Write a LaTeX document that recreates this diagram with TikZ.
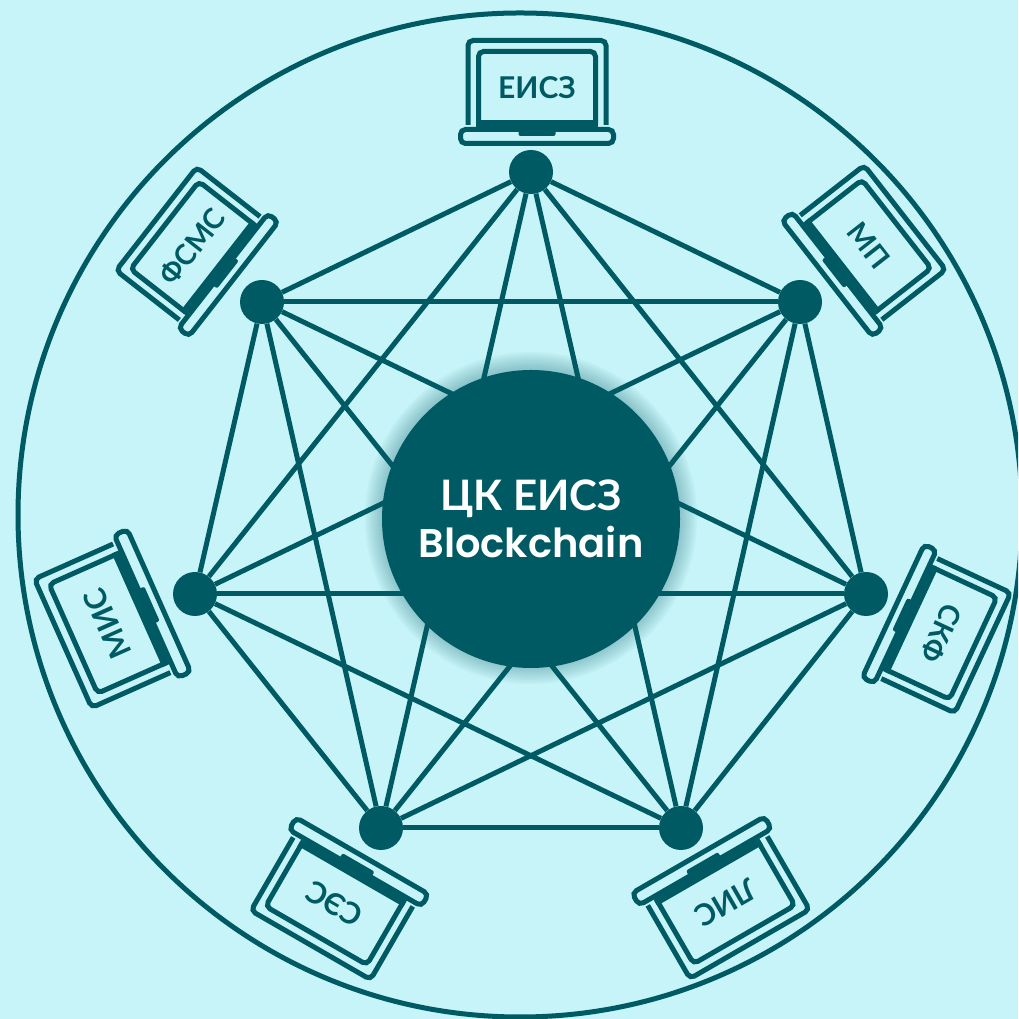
\documentclass[tikz,border=0pt]{standalone}
\usepackage{fontspec}
\setmainfont{Lato}
\newfontfamily\latinfont{Poppins}[BoldFont={Poppins SemiBold}]
\usepackage{tikz}
\definecolor{bgcol}{HTML}{C6F4F8}
\definecolor{tealcol}{HTML}{005A64}
\tikzset{
    linkline/.style={draw=tealcol, line width=5pt},
    hubnode/.style={circle, fill=tealcol, inner sep=0pt, minimum size=44pt},
    ckhub/.style={circle, fill=tealcol, inner sep=0pt, minimum size=298pt, text=white, align=center},
    laptopline/.style={draw=tealcol, line width=5pt, rounded corners=5pt},
    laptoptext/.style={transform shape, text=tealcol, inner sep=0pt, font=\bfseries\fontsize{30}{30}\selectfont},
    pics/laptop/.style={code={
        \draw[laptopline] (-69,-33) -- (-69,51.5) -- (69,51.5) -- (69,-33);
        \draw[laptopline] (-58.5,-33) -- (-58.5,40.5) -- (58.5,40.5) -- (58.5,-33);
        \fill[tealcol] (-61,-37) rectangle (61,-28);
        \fill[tealcol, rounded corners=2pt] (-18.5,-44) rectangle (18.5,-35);
        \draw[laptopline] (-76.5,-37.5) rectangle (76.5,-51.5);
        \node[laptoptext] (text) at (0,4) {#1};
    }},
}
\begin{document}
\begin{tikzpicture}[x=1pt, y=1pt]
    \fill[bgcol] (0,0) rectangle (1018,1019);
    \useasboundingbox (0,0) rectangle (1018,1019);
    \clip (0,0) rectangle (1018,1019);
    \draw[linkline] (520,504) circle (502);
    % laptops
    \pic (eisz) at (537,927) [rotate=0] {laptop=ЕИСЗ};
    \pic (mp) at (866,771) [rotate=-52, scale=0.96] {laptop=МП};
    \pic (skf) at (938,387) [rotate=-115, scale=0.96] {laptop=СКФ};
    \pic (lis) at (724,119.5) [rotate=-150] {laptop=ЛИС};
    \pic (ses) at (336.5,118.5) [rotate=150] {laptop=СЭС};
    \pic (mis) at (111,397) [rotate=114, scale=1.02] {laptop=МИС};
    \pic (fsms) at (195,770) [rotate=52, scale=0.95] {laptop=ФСМС};
    % hubs
    \node[hubnode] (hubeisz) at (531,847) {};
    \node[hubnode] (hubmp) at (800,717) {};
    \node[hubnode] (hubskf) at (866,425) {};
    \node[hubnode] (hublis) at (681,191) {};
    \node[hubnode] (hubses) at (381,191) {};
    \node[hubnode] (hubmis) at (195,425) {};
    \node[hubnode] (hubfsms) at (262,717) {};
    \foreach \a [count=\i] in {hubeisz,hubmp,hubskf,hublis,hubses,hubmis,hubfsms}
        \foreach \b [count=\j] in {hubeisz,hubmp,hubskf,hublis,hubses,hubmis,hubfsms}
            {\ifnum\i<\j \draw[linkline] (\a) -- (\b); \fi}
    % soft shadow round the centre
    \foreach \r in {150,152,...,166}
        \fill[tealcol, opacity=0.035] (531,501) circle (\r);
    \node[ckhub] (ck) at (531,500) {\fontsize{42}{50}\selectfont\bfseries ЦК ЕИСЗ\\[7pt]{\latinfont\fontsize{40}{50}\selectfont\bfseries Blockchain}};
\end{tikzpicture}
\end{document}
